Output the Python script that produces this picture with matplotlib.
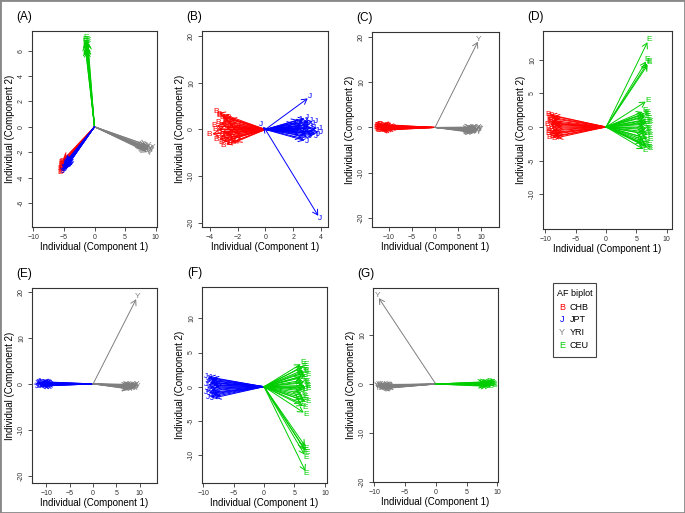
import matplotlib
matplotlib.use("Agg")
import matplotlib.pyplot as plt
from matplotlib.patches import Rectangle

plt.rcParams['font.family'] = ['Liberation Sans', 'DejaVu Sans']

# colours of the four populations
RED = '#FF0000'
BLUE = '#0000FF'
GRAY = '#7F7F7F'
GREEN = '#00CD00'

# ~~~ DATA (end points of the individual arrows) ~~~

# (A) all four populations
a_chb_x = [-5.6, -5.5, -5.4, -5.5, -5.3, -5.6, -5.2, -5.4, -5.5, -5.3, -5.1, -5.4]
a_chb_y = [-3.3, -3.0, -2.8, -3.5, -3.2, -3.6, -2.9, -3.4, -3.1, -2.7, -3.0, -3.3]
a_jpt_x = [-5.0, -4.8, -4.9, -5.2, -4.7, -5.1, -4.9, -5.3, -4.8, -5.0, -4.6, -5.1]
a_jpt_y = [-3.2, -3.1, -3.4, -3.3, -3.0, -3.5, -2.9, -3.2, -3.3, -3.0, -3.2, -3.4]
a_yri_x = [8.2, 8.6, 9.0, 9.3, 8.8, 9.1, 8.4, 9.4, 8.7, 9.0, 8.9, 9.2]
a_yri_y = [-1.7, -1.6, -1.8, -1.9, -2.0, -1.7, -1.8, -1.6, -1.9, -2.1, -1.5, -1.8]
a_ceu_x = [-1.5, -1.3, -1.4, -1.2, -1.6, -1.3, -1.1, -1.4, -1.5, -1.2, -1.3, -1.4]
a_ceu_y = [6.9, 6.6, 7.0, 6.4, 6.7, 6.2, 6.8, 6.5, 6.3, 6.9, 6.4, 6.6]

# (B) CHB vs JPT
b_chb_x = [-3.5, -3.3, -3.1, -2.9, -3.4, -2.8, -3.2, -3.0, -2.6, -3.6, -2.7, -3.3, -2.5, -3.1, -2.9,
           -3.4, -2.4, -3.0, -2.8, -3.2, -2.6, -3.5, -2.3, -3.0, -2.7, -3.3, -2.9, -4.0, -3.7, -2.2]
b_chb_y = [3.8, 3.2, 2.6, 2.0, 1.5, 1.2, 0.9, 0.5, 0.3, 0.0, -0.2, -0.5, -0.7, -1.0, -1.3,
           -1.6, -1.8, -2.1, -2.4, -2.7, -3.0, -2.2, -2.9, -3.4, 2.5, 2.9, 1.7, -1.0, 0.8, 0.6]
b_jpt_x = [2.2, 2.5, 2.8, 3.0, 3.3, 3.6, 3.9, 2.4, 2.7, 3.1, 3.4, 3.7, 4.0, 2.6, 2.9,
           3.2, 3.5, 3.8, 2.3, 2.8, 3.0, 3.3, 3.6, 2.7, 3.4, 2.9, 3.2, 3.2, 3.9, -0.3]
b_jpt_y = [1.5, 2.2, 1.0, 2.5, 0.6, 1.8, 0.3, -0.4, 0.0, -0.8, 1.2, -0.2, -0.6, -1.3, 0.9,
           -1.6, 0.4, -1.0, 0.2, -2.0, -2.5, 1.9, -1.4, 0.7, -0.5, 2.0, -0.9, 7.0, -19.0, 1.0]

# (C) CHB vs YRI
c_chb_x = [-12.5, -12.3, -12.0, -11.8, -12.4, -11.6, -12.2, -11.5, -12.1, -11.9,
           -12.6, -11.2, -10.8, -12.0, -11.4, -12.3, -10.5, -11.7, -12.4, -11.0]
c_chb_y = [0.5, 0.2, -0.3, 0.6, -0.5, 0.1, -0.2, 0.4, 0.3, -0.6,
           0.0, -0.1, 0.2, 0.7, -0.4, -0.7, 0.0, 0.3, 0.4, -0.3]
c_yri_x = [8.0, 8.4, 8.8, 9.2, 9.6, 8.2, 8.6, 9.0, 9.4, 9.8, 8.3,
           8.7, 9.1, 9.5, 8.5, 8.9, 9.3, 9.7, 8.1, 9.0, 9.5]
c_yri_y = [-0.3, -0.6, -0.9, -0.2, -0.5, -1.0, -0.1, -0.7, -1.1, -0.4, 0.1,
           -0.8, -0.3, 0.0, -1.2, -0.5, -0.9, -0.2, -0.7, -0.4, 19.5]

# (D) CHB vs CEU
d_chb_x = [-9.6, -9.4, -9.2, -9.0, -8.8, -9.5, -9.3, -9.1, -8.9, -8.6,
           -9.7, -9.2, -8.5, -9.0, -9.4, -8.8, -9.6, -9.1, -8.7, -9.3]
d_chb_y = [1.9, 1.5, 1.0, 0.6, 0.2, -0.2, -0.6, -1.0, -1.4, -1.7,
           0.4, 1.3, 0.0, -0.4, 0.8, -1.1, -0.9, 1.7, 0.5, -1.6]
d_ceu_x = [6.4, 6.6, 6.8, 7.0, 7.2, 6.5, 6.7, 6.9, 7.1, 7.3, 6.3, 6.6, 6.8, 7.0, 7.2,
           6.5, 6.9, 7.1, 6.7, 7.0, 6.4, 6.8, 7.2, 6.6, 7.0, 6.9, 7.1, 6.8, 7.0, 7.0]
d_ceu_y = [2.4, 2.0, 1.6, 1.2, 0.8, 0.4, 0.0, -0.4, -0.8, -1.2, -1.6, -2.0, -2.4, -2.8, -3.2,
           -3.5, 1.8, -0.2, -1.0, 0.6, -2.6, 2.2, -1.8, 1.0, -3.0, 4.0, 9.6, 10.1, 13.0, 9.8]

# (E) JPT vs YRI
e_jpt_x = [-12.0, -11.8, -11.5, -11.2, -10.9, -12.1, -11.7, -11.3, -10.6, -11.9, -11.0, -11.6, -12.2, -10.8, -11.4]
e_jpt_y = [0.3, -0.2, 0.5, 0.0, -0.4, -0.5, 0.2, 0.4, -0.1, 0.1, 0.3, -0.3, 0.0, 0.2, -0.5]
e_yri_x = [8.0, 8.3, 8.6, 8.9, 9.2, 9.5, 8.1, 8.4, 8.7, 9.0, 9.3, 8.2, 8.5, 8.8, 9.1, 9.4, 8.6, 9.0, 9.5]
e_yri_y = [-0.4, -0.7, -1.0, -0.3, -0.8, -0.5, -1.1, -0.2, -0.6, -0.9, -0.1, -1.2, -0.5, -0.7, -0.4, -1.0, -0.3, -0.6, 19.0]

# (F) JPT vs CEU
f_jpt_x = [-9.5, -9.3, -9.1, -8.9, -8.7, -9.4, -9.2, -9.0, -8.8, -8.5,
           -9.6, -9.1, -8.4, -9.0, -9.3, -8.7, -9.5, -8.9, -8.6, -9.2]
f_jpt_y = [1.5, 1.2, 0.9, 0.5, 0.2, -0.2, -0.6, -1.0, -1.3, -1.7,
           0.3, 1.0, 0.0, -0.4, 0.7, -1.1, -0.9, 1.3, 0.6, -1.6]
f_ceu_x = [6.4, 6.6, 6.8, 7.0, 7.2, 6.5, 6.7, 6.9, 7.1, 7.3, 6.3, 6.6, 6.8, 7.0, 7.2,
           6.5, 6.9, 7.1, 6.7, 7.0, 6.4, 6.8, 7.2, 6.6, 6.9, 7.0, 6.8, 7.1, 6.9, 7.0]
f_ceu_y = [3.5, 3.0, 2.6, 2.2, 1.8, 1.4, 1.0, 0.6, 0.2, -0.2, -0.6, -1.0, -1.4, -1.8, -2.2,
           -2.6, 3.2, 0.8, -0.4, 2.4, -2.0, -3.0, 0.0, 1.6, -4.0, -9.0, -9.4, -9.7, -10.3, -12.7]

# (G) YRI vs CEU
g_yri_x = [-9.6, -9.4, -9.2, -9.0, -8.8, -8.5, -9.5, -9.3, -9.1, -8.9, -8.6, -9.4, -9.0, -8.7, -9.2, -8.4, -9.5]
g_yri_y = [-0.3, -0.6, -0.9, -0.2, -0.7, -0.5, -1.0, -0.1, -0.4, -0.8, -0.3, -0.6, -1.0, -0.2, -0.5, -0.7, 18.0]
g_ceu_x = [8.3, 8.6, 8.9, 9.2, 9.5, 8.4, 8.7, 9.0, 9.3, 8.5, 8.8, 9.1, 9.4, 8.6, 9.0]
g_ceu_y = [0.4, 0.1, -0.2, 0.3, -0.4, -0.3, 0.5, 0.0, 0.2, 0.2, -0.5, 0.4, -0.1, -0.2, 0.1]

legend_letters = ['B', 'J', 'Y', 'E']
legend_names = ['CHB', 'JPT', 'YRI', 'CEU']
legend_colors = [RED, BLUE, GRAY, GREEN]

W, H = 685, 513
fig = plt.figure(figsize=(W / 100, H / 100), dpi=100)


# axes from pixel box (left, top, right, bottom)
def make_axes(x0, y0, x1, y1):
    return fig.add_axes([x0 / W, 1 - y1 / H, (x1 - x0) / W, (y1 - y0) / H])


# draws the arrows of one population, with its letter at the tip
def draw_group(ax, xs, ys, letter, color):
    for x, y in zip(xs, ys):
        ax.annotate('', xy=(x, y), xytext=(0, 0),
                    arrowprops=dict(arrowstyle='->,head_length=0.4,head_width=0.23',
                                    mutation_scale=9, color=color, lw=0.7,
                                    shrinkA=0, shrinkB=2))
        ax.text(x, y, letter, color=color, fontsize=6, ha='center', va='center')


def style_axes(ax, tag, xlim, ylim, xticks, yticks):
    ax.set_xlim(xlim)
    ax.set_ylim(ylim)
    ax.set_xticks(xticks)
    ax.set_yticks(yticks)
    ax.set_yticklabels([str(t) for t in yticks], rotation=90, va='center')
    ax.tick_params(labelsize=5, length=3, width=0.6, pad=2, colors='#333333')
    for s in ax.spines.values():
        s.set_linewidth(0.8)
        s.set_color('#333333')
    ax.set_xlabel('Individual (Component 1)', fontsize=7, labelpad=1)
    ax.set_ylabel('Individual (Component 2)', fontsize=7, labelpad=2)
    ax.text(-0.06, 1.07, tag, transform=ax.transAxes, fontsize=8.5, ha='center', va='center')


# (A)
ax = make_axes(32, 31, 157, 227)
draw_group(ax, a_yri_x, a_yri_y, 'Y', GRAY)
draw_group(ax, a_ceu_x, a_ceu_y, 'E', GREEN)
draw_group(ax, a_chb_x, a_chb_y, 'B', RED)
draw_group(ax, a_jpt_x, a_jpt_y, 'J', BLUE)
style_axes(ax, '(A)', (-10.2, 10.2), (-7.9, 7.55), [-10, -5, 0, 5, 10], [-6, -4, -2, 0, 2, 4, 6])

# (B)
ax = make_axes(202, 31, 328, 227)
draw_group(ax, b_chb_x, b_chb_y, 'B', RED)
draw_group(ax, b_jpt_x, b_jpt_y, 'J', BLUE)
style_axes(ax, '(B)', (-4.55, 4.5), (-20.9, 21.1), [-4, -2, 0, 2, 4], [-20, -10, 0, 10, 20])

# (C)
ax = make_axes(372, 32, 499, 227)
draw_group(ax, c_chb_x, c_chb_y, 'B', RED)
draw_group(ax, c_yri_x, c_yri_y, 'Y', GRAY)
style_axes(ax, '(C)', (-13.6, 13.8), (-22.0, 21.1), [-10, -5, 0, 5, 10], [-20, -10, 0, 10, 20])

# (D)
ax = make_axes(543, 31, 672, 229)
draw_group(ax, d_chb_x, d_chb_y, 'B', RED)
draw_group(ax, d_ceu_x, d_ceu_y, 'E', GREEN)
style_axes(ax, '(D)', (-10.4, 10.85), (-15.2, 14.3), [-10, -5, 0, 5, 10], [-10, -5, 0, 5, 10])

# (E)
ax = make_axes(32, 288, 157, 483)
draw_group(ax, e_jpt_x, e_jpt_y, 'J', BLUE)
draw_group(ax, e_yri_x, e_yri_y, 'Y', GRAY)
style_axes(ax, '(E)', (-13.1, 13.7), (-21.6, 20.9), [-10, -5, 0, 5, 10], [-20, -10, 0, 10, 20])

# (F)
ax = make_axes(202, 287, 327, 483)
draw_group(ax, f_jpt_x, f_jpt_y, 'J', BLUE)
draw_group(ax, f_ceu_x, f_ceu_y, 'E', GREEN)
style_axes(ax, '(F)', (-10.2, 10.35), (-14.1, 14.6), [-10, -5, 0, 5, 10], [-10, -5, 0, 5, 10])

# (G)
ax = make_axes(373, 288, 498, 482)
draw_group(ax, g_yri_x, g_yri_y, 'Y', GRAY)
draw_group(ax, g_ceu_x, g_ceu_y, 'E', GREEN)
style_axes(ax, '(G)', (-10.2, 10.1), (-19.9, 19.6), [-10, -5, 0, 5, 10], [-20, -10, 0, 10])

# legend box, drawn by hand like R's legend()
fig.patches.append(Rectangle((553 / W, 1 - 357 / H), 43 / W, 74 / H, transform=fig.transFigure,
                             fill=False, ec='#444444', lw=0.8))
fig.text(574.5 / W, 1 - 293 / H, 'AF biplot', fontsize=6.5, ha='center', va='center')
for i, (let, name, col) in enumerate(zip(legend_letters, legend_names, legend_colors)):
    yy = 1 - (307 + i * 12.7) / H
    fig.text(562 / W, yy, let, color=col, fontsize=6.5, ha='center', va='center')
    fig.text(570 / W, yy, name, color='black', fontsize=6.5, ha='left', va='center')

# grey frame round the whole figure
fig.patches.append(Rectangle((0, 0), 1, 1, transform=fig.transFigure, fill=False, ec='#888888', lw=2))

plt.savefig('out.png', dpi=100)
